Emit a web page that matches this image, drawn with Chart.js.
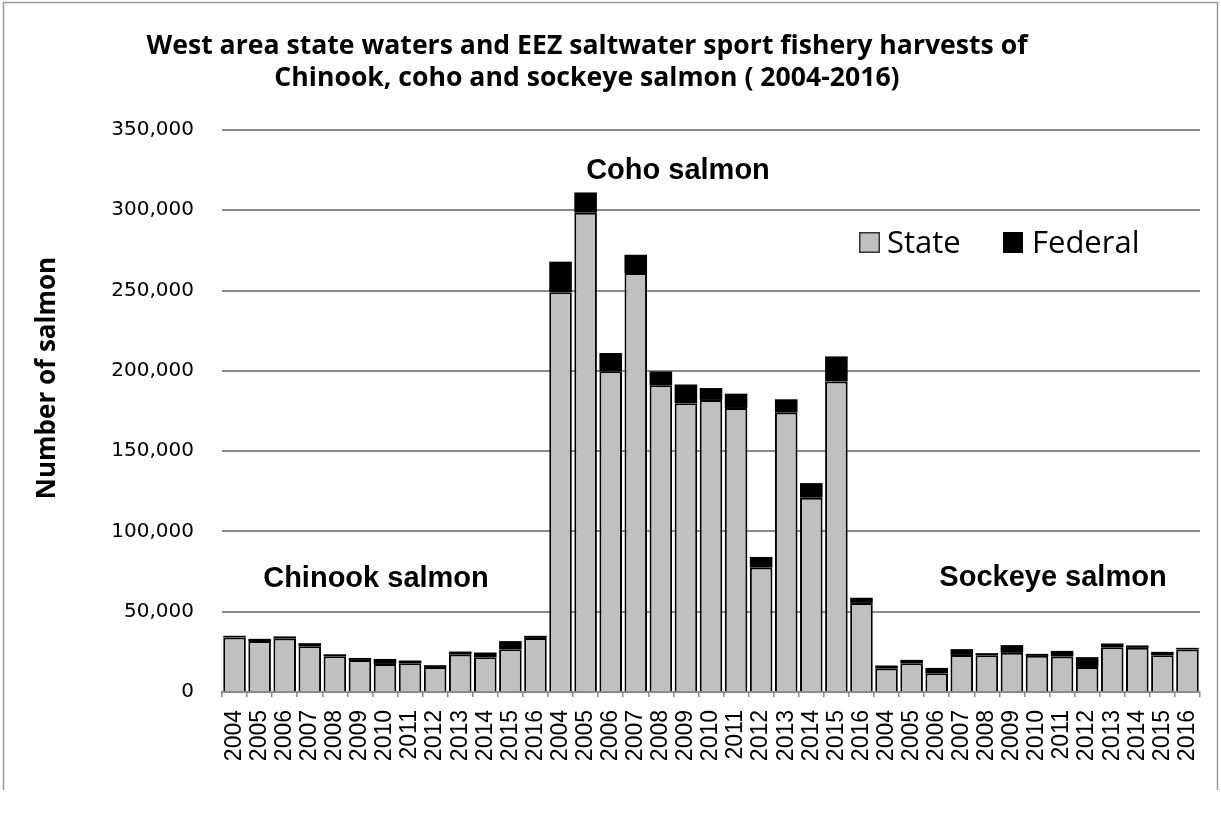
<!DOCTYPE html>
<html>
<head>
<meta charset="utf-8">
<script src="https://cdn.jsdelivr.net/npm/chart.js@4.4.0/dist/chart.umd.min.js"></script>
<style>
  html, body { margin: 0; padding: 0; background: #fff; }
</style>
</head>
<body>
<canvas id="chart-salmon" width="1221" height="816"></canvas>
<script>
// harvest numbers (state part and federal part on top)
var years = ["2004", "2005", "2006", "2007", "2008", "2009", "2010", "2011", "2012", "2013", "2014", "2015", "2016"];

var chinookState   = [34000, 31700, 33300, 28500, 22300, 20000, 17500, 17900, 15600, 23300, 21700, 26700, 33700];
var chinookFederal = [1000, 1400, 1300, 1900, 1200, 1200, 3100, 1700, 1100, 1900, 2900, 5000, 1300];

var cohoState   = [249000, 298500, 199800, 260900, 191000, 179900, 181900, 176900, 77500, 174000, 121000, 193400, 55500];
var cohoFederal = [19000, 12600, 11300, 11400, 8600, 11600, 7400, 8900, 6600, 8300, 9100, 15600, 3200];

var sockeyeState   = [14600, 17900, 11700, 23100, 22900, 24400, 22500, 22100, 15600, 27900, 27500, 22900, 26500];
var sockeyeFederal = [1900, 2100, 3300, 3600, 1300, 4800, 1250, 3500, 6100, 2300, 1500, 2100, 1000];

var yTicks = [0, 50000, 100000, 150000, 200000, 250000, 300000, 350000];

var labels = years.concat(years, years);
var stateValues = chinookState.concat(cohoState, sockeyeState);
var federalValues = chinookFederal.concat(cohoFederal, sockeyeFederal);

var gridGray = '#8a8a8a';

// titles, species names, legend and frame
var salmonText = {
    id: 'salmonText',
    beforeDraw: function(chart) {
        var c = chart.ctx;
        c.save();
        c.fillStyle = '#fff';
        c.fillRect(0, 0, chart.width, chart.height);
        c.strokeStyle = '#9a9a9a';
        c.lineWidth = 1.5;
        c.beginPath();
        c.moveTo(3.5, 790);
        c.lineTo(3.5, 2.5);
        c.lineTo(1217.5, 2.5);
        c.lineTo(1217.5, 790);
        c.stroke();
        c.restore();
    },
    afterDraw: function(chart) {
        var c = chart.ctx;
        c.save();
        c.fillStyle = '#000';
        c.textBaseline = 'alphabetic';

        // main title, squeezed a bit to the width of the original
        c.font = 'bold 27px "Open Sans"';
        var line1 = 'West area state waters and EEZ saltwater sport fishery harvests of';
        var line2 = 'Chinook, coho and sockeye salmon ( 2004-2016)';
        var sx = 881 / c.measureText(line1).width;
        c.textAlign = 'center';
        c.save();
        c.translate(587, 0);
        c.scale(sx, 1);
        c.fillText(line1, 0, 54);
        c.fillText(line2, 0, 86);
        c.restore();

        // y axis title
        c.save();
        c.font = 'bold 26px "Open Sans"';
        c.translate(55, 378);
        c.rotate(-Math.PI / 2);
        c.fillText('Number of salmon', 0, 0);
        c.restore();

        // species names
        c.font = 'bold 29px "Liberation Sans", Arial, sans-serif';
        c.fillText('Chinook salmon', 376, 587);
        c.fillText('Coho salmon', 678, 179);
        c.fillText('Sockeye salmon', 1053, 586);

        // legend
        var ds = chart.data.datasets;
        c.fillStyle = ds[0].backgroundColor;
        c.fillRect(859, 232, 21, 21);
        c.strokeStyle = '#333';
        c.lineWidth = 1.5;
        c.strokeRect(859.75, 232.75, 19.5, 19.5);
        c.fillStyle = ds[1].backgroundColor;
        c.fillRect(1003, 232, 20, 21);
        c.fillStyle = '#000';
        c.textAlign = 'left';
        c.font = '31px "Open Sans"';
        c.fillText(ds[0].label, 887, 253);
        c.fillText(ds[1].label, 1032, 253);
        c.restore();
    }
};

var ctx = document.getElementById('chart-salmon');
var salmonChart = new Chart(ctx, {
    type: 'bar',
    data: {
        labels: labels,
        datasets: [{
            label: 'State',
            data: stateValues,
            backgroundColor: '#c0c0c0',
            borderColor: '#000',
            borderWidth: 2,
            borderSkipped: 'bottom'
        }, {
            label: 'Federal',
            data: federalValues,
            backgroundColor: '#000',
            borderColor: '#000',
            borderWidth: 0
        }]
    },
    options: {
        responsive: false,
        animation: false,
        layout: {
            padding: { top: 130, right: 21, left: 0, bottom: 0 }
        },
        datasets: {
            bar: { barPercentage: 0.9, categoryPercentage: 1 }
        },
        plugins: {
            legend: { display: false },
            title: { display: false },
            tooltip: { enabled: false }
        },
        scales: {
            x: {
                stacked: true,
                afterFit: function(scale) {
                    scale.height = 124;
                    scale.paddingLeft = 0;
                    scale.paddingRight = 0;
                },
                grid: {
                    display: true,
                    drawOnChartArea: false,
                    drawTicks: true,
                    tickLength: 5,
                    color: gridGray,
                    lineWidth: 1.5
                },
                border: { display: true, color: gridGray, width: 2 },
                ticks: {
                    autoSkip: false,
                    minRotation: 90,
                    maxRotation: 90,
                    padding: 13,
                    color: '#000',
                    font: { family: '"Liberation Sans", Arial, sans-serif', size: 23 }
                }
            },
            y: {
                stacked: true,
                min: 0,
                max: 350000,
                afterFit: function(scale) { scale.width = 222; },
                afterBuildTicks: function(scale) {
                    scale.ticks = yTicks.map(function(v) { return { value: v }; });
                },
                grid: {
                    color: gridGray,
                    lineWidth: 2,
                    drawTicks: false
                },
                border: { display: false },
                ticks: {
                    padding: 28,
                    color: '#000',
                    font: { family: '"DejaVu Sans", sans-serif', size: 20 },
                    callback: function(v) { return v.toLocaleString('en-US'); }
                }
            }
        }
    },
    plugins: [salmonText]
});
</script>
</body>
</html>
